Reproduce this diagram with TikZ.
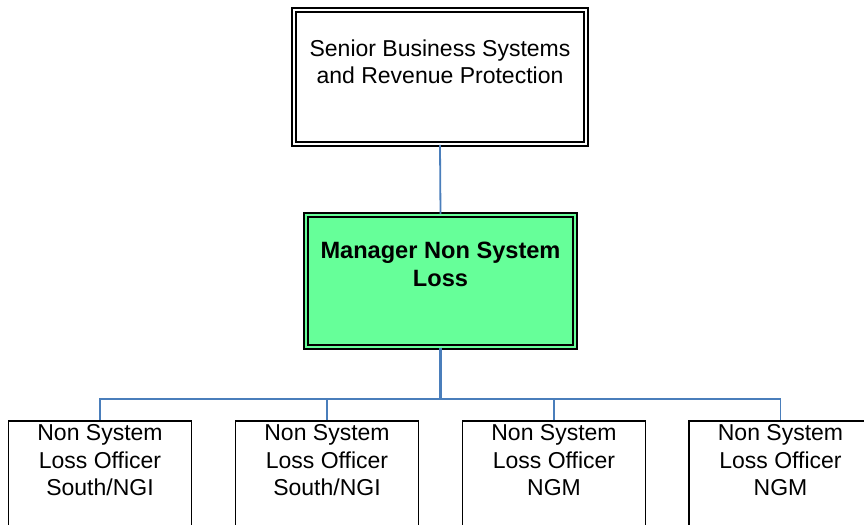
\documentclass[tikz,border=0pt]{standalone}
\usepackage{fontspec}
\setmainfont{Liberation Sans}
\usetikzlibrary{calc}
\definecolor{linkblue}{RGB}{74,126,187}
\definecolor{mgrgreen}{RGB}{102,255,153}
\tikzset{
	dblbox/.style={draw=black, line width=0.9pt, double distance=1.2pt, inner sep=0pt},
	headbox/.style={dblbox, double=white, minimum width=146pt, minimum height=67pt},
	mgrbox/.style={dblbox, double=mgrgreen, fill=mgrgreen, minimum width=134.5pt, minimum height=66pt},
	officerbox/.style={draw=black, line width=0.75pt, inner sep=0pt, minimum width=91.5pt, minimum height=70pt},
	boxtext/.style={anchor=north, align=center, inner sep=0pt, font=\fontsize{11.5pt}{13.8pt}\selectfont},
	link/.style={draw=linkblue, line width=0.9pt},
}

\begin{document}
\begin{tikzpicture}[x=0.5pt, y=-0.5pt]
	\useasboundingbox (0,0) rectangle (864,525);

	% top of the chart
	\node[headbox] (senior) at (440,77) {};
	\node[boxtext] (seniortext) at (440,39) {Senior Business Systems\\and Revenue Protection};

	\node[mgrbox] (manager) at (440.5,281) {};
	\node[boxtext, font=\fontsize{11.8pt}{14pt}\selectfont\bfseries] (managertext) at (440.5,242) {Manager Non System\\Loss};

	% officers, boxes run past the lower edge
	\foreach \i/\x/\area in {1/100/South\slash NGI, 2/327/South\slash NGI, 3/554/NGM, 4/780.5/NGM}{
		\node[officerbox] (officer\i) at (\x,491) {};
		\node[boxtext] (officertext\i) at (\x,424) {Non System\\Loss Officer\\\area};
	}

	\coordinate (bus) at (440.5,399);
	\draw[link] (senior.south) -- (manager.north);
	\draw[link, line width=1.4pt] (manager.south) -- (bus);
	\foreach \i in {1,...,4}
		\draw[link] (bus) -| (officer\i.north);
\end{tikzpicture}
\end{document}
